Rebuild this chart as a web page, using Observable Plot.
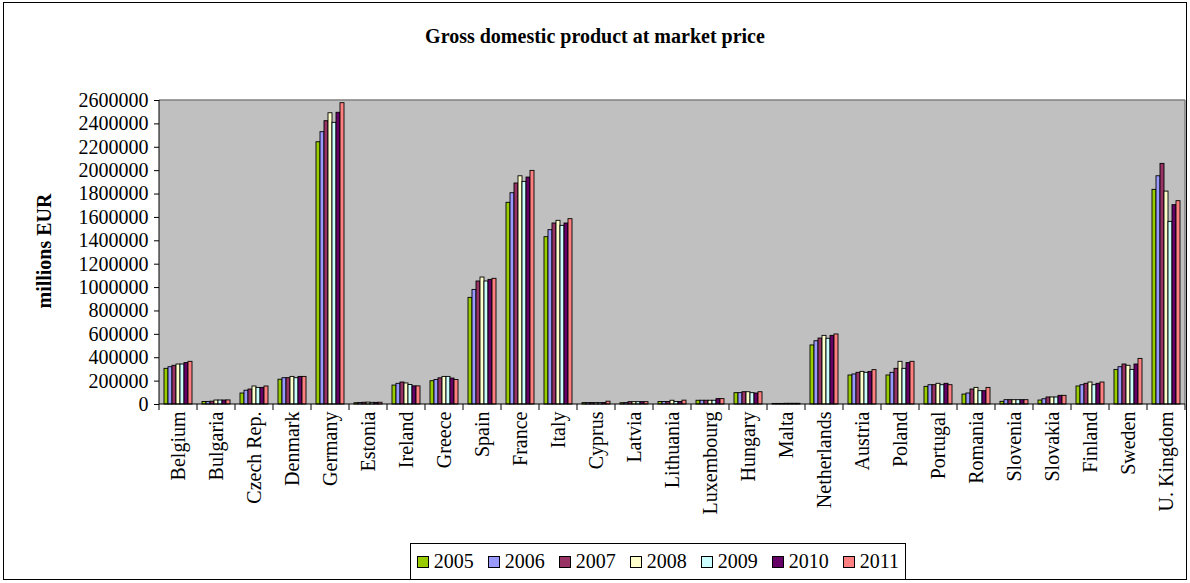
<!DOCTYPE html>
<html>
<head>
<meta charset="utf-8">
<script src="https://cdn.jsdelivr.net/npm/d3@7"></script>
<script src="https://cdn.jsdelivr.net/npm/@observablehq/plot@0.6"></script>
<style>
  body { margin: 0; background: #fff; }
  #wrap { position: relative; width: 1190px; height: 583px; overflow: hidden;
          font-family: "Liberation Serif", "Times New Roman", serif; color: #000; }
  #border { position: absolute; left: 3px; top: 2px; width: 1184px; height: 578px;
            border: 1px solid #000; box-sizing: border-box; }
  #title { position: absolute; left: 0; top: 25px; width: 1190px; text-align: center;
           font-weight: bold; font-size: 20px; line-height: 22px; }
  #ylabel { position: absolute; left: 44px; top: 251px; font-weight: bold; font-size: 20px;
            white-space: nowrap; transform: translate(-50%, -50%) rotate(-90deg); }
  #legend { position: absolute; left: 410px; top: 543px; width: 496px; height: 37px;
            border: 1px solid #000; box-sizing: border-box; display: flex;
            align-items: center; justify-content: center; font-size: 20px; background: #fff; }
  .item { display: flex; align-items: center; margin: 0 14px 0 0; }
  .item:last-child { margin-right: 0; }
  .sw { width: 12px; height: 12px; border: 1px solid #000; box-sizing: border-box; margin-right: 5px; }
  #chart { position: absolute; left: 0; top: 0; }
</style>
</head>
<body>
<div id="wrap">
  <div id="border"></div>
  <div id="chart"></div>
  <div id="title">Gross domestic product at market price</div>
  <div id="ylabel">millions EUR</div>
  <div id="legend"></div>
</div>
<script>
// ---- data (millions EUR) ----
const countries = ["Belgium","Bulgaria","Czech Rep.","Denmark","Germany","Estonia","Ireland","Greece",
  "Spain","France","Italy","Cyprus","Latvia","Lithuania","Luxembourg","Hungary","Malta","Netherlands",
  "Austria","Poland","Portugal","Romania","Slovenia","Slovakia","Finland","Sweden","U. Kingdom"];
const years = ["2005","2006","2007","2008","2009","2010","2011"];
const yearColors = ["#99CC00","#9999FF","#993366","#FFFFCC","#CCFFFF","#660066","#FF8080"];
const yTicks = [0,200000,400000,600000,800000,1000000,1200000,1400000,1600000,1800000,2000000,2200000,2400000,2600000];

const gdp2005 = [305000,21000,94000,212000,2243000,11000,162000,199000,912000,1725000,1431000,12000,11000,21000,32000,97000,5000,505000,248000,248000,151000,85000,23000,34000,154000,296000,1836000];
const gdp2006 = [319000,22000,118000,225000,2329000,13000,177000,210000,980000,1807000,1491000,12000,12000,21000,32000,97000,5000,541000,257000,271000,165000,94000,37000,45000,165000,319000,1952000];
const gdp2007 = [331000,24000,128000,225000,2423000,15000,188000,224000,1052000,1890000,1548000,12000,20000,21000,32000,105000,5000,564000,271000,305000,165000,128000,37000,60000,177000,342000,2058000];
const gdp2008 = [342000,34000,154000,236000,2491000,16000,180000,236000,1086000,1952000,1571000,12000,20000,32000,32000,105000,6000,587000,279000,365000,177000,142000,37000,60000,188000,331000,1821000];
const gdp2009 = [342000,34000,142000,225000,2409000,14000,167000,236000,1052000,1904000,1528000,12000,20000,21000,32000,97000,6000,562000,271000,305000,165000,114000,37000,60000,165000,296000,1562000];
const gdp2010 = [354000,34000,142000,236000,2495000,14000,155000,222000,1066000,1941000,1548000,12000,20000,21000,46000,94000,6000,587000,279000,354000,177000,114000,37000,74000,177000,342000,1705000];
const gdp2011 = [365000,35000,154000,236000,2577000,15000,155000,210000,1075000,1998000,1585000,24000,20000,33000,46000,105000,6000,599000,294000,365000,165000,142000,37000,74000,188000,390000,1739000];
const series = [gdp2005,gdp2006,gdp2007,gdp2008,gdp2009,gdp2010,gdp2011];

const data = countries.flatMap((c, i) => years.map((yr, j) => ({country: c, year: yr, value: series[j][i]})));

const plot = Plot.plot({
  width: 1190,
  height: 583,
  marginTop: 100,
  marginBottom: 179,
  marginLeft: 159,
  marginRight: 5,
  style: {fontFamily: "'Liberation Serif', 'Times New Roman', serif", fontSize: "20px", background: "transparent", color: "#000"},
  fx: {domain: countries, padding: 0, label: null, tickRotate: -90, tickSize: 0, tickPadding: 7},
  x: {domain: years, paddingInner: 0, paddingOuter: 0.6, axis: null},
  y: {domain: [0, 2600000], ticks: yTicks, tickFormat: d3.format("d"), tickSize: 5, tickPadding: 6, label: null},
  color: {domain: years, range: yearColors},
  marks: [
    Plot.barY(data, {fx: "country", x: "year", y: "value", fill: "year", stroke: "#000", strokeWidth: 0.9})
  ]
});
document.getElementById("chart").appendChild(plot);

// plot-area background, borders and group-boundary ticks, placed with the library's own scales
const fxs = plot.scale("fx");
const ys = plot.scale("y");
const y0 = ys.apply(0), yTop = ys.apply(2600000);
const xL = fxs.range[0], xR = fxs.range[1];
const step = fxs.step != null ? fxs.step : (xR - xL) / fxs.domain.length;
const svg = d3.select(plot);
svg.insert("rect", ":first-child")
  .attr("x", xL).attr("y", yTop).attr("width", xR - xL).attr("height", y0 - yTop)
  .attr("fill", "#C0C0C0");
const g = svg.append("g");
g.append("line").attr("x1", xL).attr("x2", xR).attr("y1", yTop).attr("y2", yTop).attr("stroke", "#808080").attr("stroke-width", 1.5);
g.append("line").attr("x1", xR).attr("x2", xR).attr("y1", yTop).attr("y2", y0).attr("stroke", "#808080").attr("stroke-width", 1.5);
g.append("line").attr("x1", xL).attr("x2", xL).attr("y1", yTop).attr("y2", y0).attr("stroke", "#000");
g.append("line").attr("x1", xL).attr("x2", xR).attr("y1", y0).attr("y2", y0).attr("stroke", "#000");
for (let i = 0; i <= fxs.domain.length; i++) {
  const x = xL + i * step;
  g.append("line").attr("x1", x).attr("x2", x).attr("y1", y0).attr("y2", y0 + 6).attr("stroke", "#000");
}

// legend
const legend = d3.select("#legend");
years.forEach((yr, j) => {
  const it = legend.append("div").attr("class", "item");
  it.append("div").attr("class", "sw").style("background", yearColors[j]);
  it.append("span").text(yr);
});
</script>
</body>
</html>
